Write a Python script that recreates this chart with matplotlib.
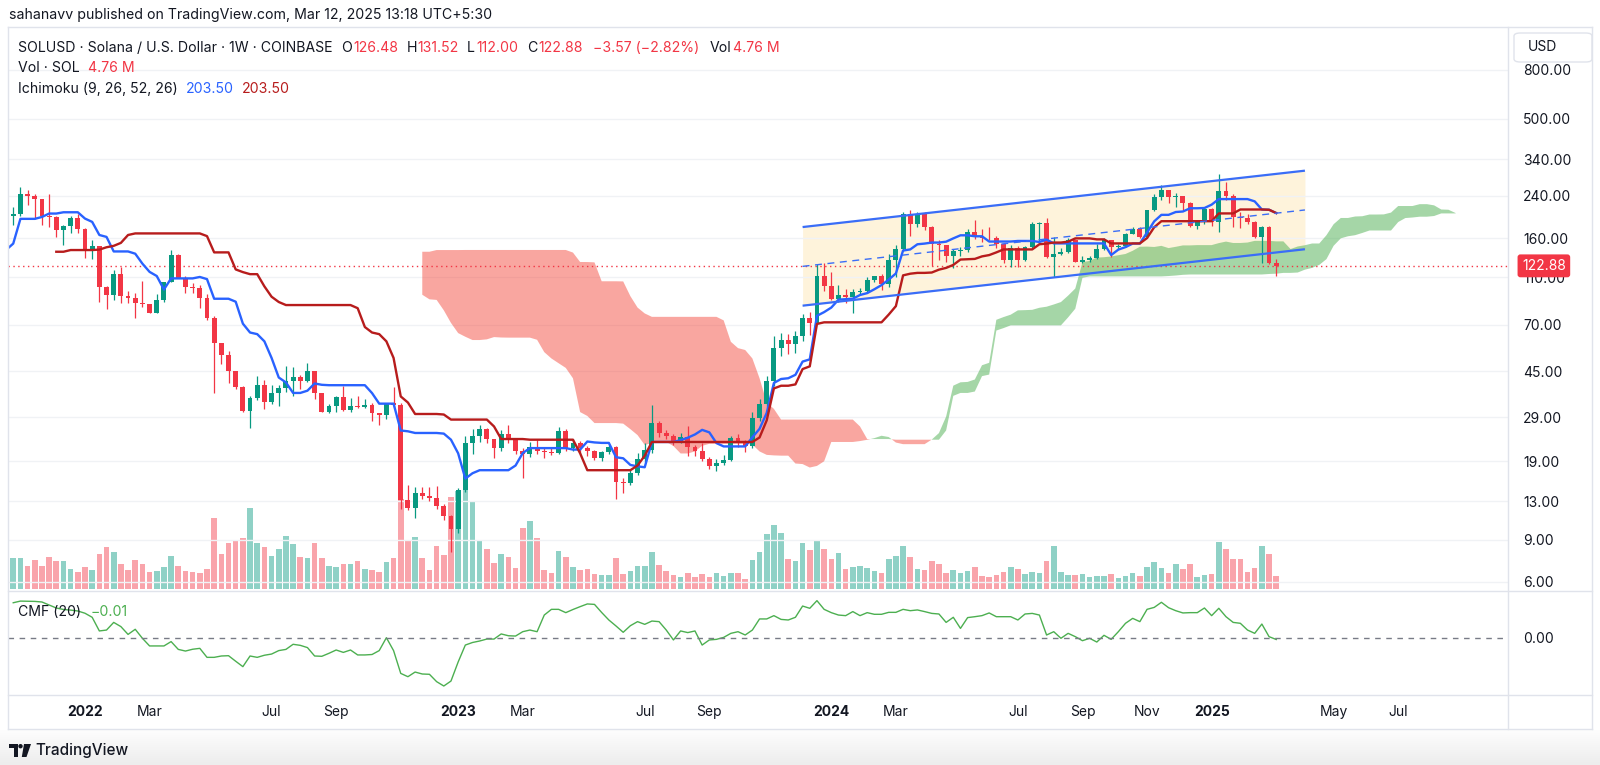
import numpy as np
import pandas as pd
import matplotlib
matplotlib.use("Agg")
import matplotlib.pyplot as plt
import matplotlib.transforms as mtransforms
from matplotlib.patches import FancyBboxPatch, Polygon, Circle
from matplotlib.lines import Line2D
from matplotlib.ticker import FixedLocator, NullLocator
from matplotlib.colors import LinearSegmentedColormap

plt.rcParams['font.family'] = ['Inter', 'DejaVu Sans']

# ---------------- data: SOLUSD weekly, COINBASE ----------------
first_week = "2021-06-14"
first_open = 38.0
highs = [44, 37, 37, 37.5, 33.5, 30.5, 36, 40, 44, 75, 97, 145, 216, 178, 160, 175, 178, 165, 200,
         216, 260, 253, 243, 233, 243, 197, 181, 197, 201,
         176, 157, 148, 101, 118, 121, 97, 95, 106, 85.5,
         93.5, 105, 143, 138, 111, 104, 102, 93.5, 76, 58.6,
         54.7, 45, 39, 35.5, 42.8, 41.3, 39.2, 39.2, 47, 46.8,
         43.2, 48.6, 45, 36.4, 32.8, 35.5, 39, 34.9, 35.4, 34.3,
         33, 30.2, 33.2, 38.7, 33, 15.2, 14.9, 14.8, 14.8, 15,
         12.6, 11.4, 14.7, 24.2, 25.9, 26.9, 26, 23.6, 25.5, 26.9,
         23.5, 21.5, 22.9, 23.3, 21.5, 21.7, 26.3, 25.9, 23.5, 23,
         22, 21.2, 21, 22.3, 22, 16.2, 17.5, 20.5, 22.7, 32.5,
         27.9, 25.5, 24.6, 25, 26.5, 22.3, 22.6, 19.8, 19.5, 20.2,
         24.3, 24.7, 23.3, 30.5, 34.5, 43, 63, 65, 64, 66,
         77.7, 79, 124.5, 126, 116, 102, 98.8, 98.8, 99, 110.5,
         112, 114, 137, 150, 206, 209, 206, 206, 179, 157,
         150, 144, 147, 175, 190, 174, 178, 164, 152, 150,
         149, 148, 187, 187, 194, 162, 146, 161, 159, 135,
         135, 152, 160, 158, 152, 168, 178, 178, 210, 245,
         266, 254, 247, 240, 227, 190, 216, 214, 295, 273,
         243, 205, 202, 189, 180, 180, 131.52]
lows = [33, 21.2, 31, 31, 28, 25.8, 27, 33.5, 37.5, 46, 70, 88, 136, 150, 125, 132, 148, 145, 152,
        181, 198, 219, 193, 181, 178, 162, 150, 168, 168,
        133, 131, 87, 81, 89, 86, 86, 75, 83, 78,
        78, 87, 105, 109, 95, 95, 82, 73.5, 36.5, 48,
        40.3, 38, 30.5, 26, 34, 31.3, 32.8, 32.3, 36.7, 35.3,
        37.8, 40.6, 34.3, 30.3, 30, 30.5, 30.8, 30.4, 31.7, 31.7,
        27.9, 26.9, 28.4, 32, 12, 11.9, 11.1, 13.2, 13.0, 12,
        10.8, 8.0, 9.6, 14.2, 20.4, 22.9, 22.6, 19.6, 21, 22.6,
        20.3, 16.2, 19.8, 20.3, 19.6, 20.1, 20.4, 21, 20.9, 20.6,
        19.9, 19.2, 19, 20.3, 13.2, 14, 15.1, 16.6, 18.8, 20.5,
        24, 23.4, 22.3, 22.7, 19.9, 20, 19.1, 17.6, 17.3, 18.4,
        19, 21.8, 20.8, 21.6, 28, 32, 39, 52, 52.7, 53.6,
        60, 63.4, 70.5, 97, 89, 87.3, 86.4, 78.5, 93, 95,
        105, 98, 100.6, 110.5, 142, 163, 178, 173, 122.6, 130,
        128, 120, 135, 140, 159, 154, 157, 146, 126, 122,
        121.7, 129, 145, 152, 132, 110.5, 136, 139, 127, 126,
        128, 131, 143, 134, 145, 147, 166, 160, 161, 207,
        230, 223, 216, 209, 178, 175, 184, 180, 170, 230,
        178, 176, 184, 160, 126, 125, 112]
closes = [35, 33, 34.5, 33, 28.5, 29, 35, 38, 42, 72, 94, 140, 176, 152, 138, 168, 155, 160, 198,
          201, 245, 240, 232, 198, 196, 173, 179, 195, 174,
          141, 148, 100, 93, 114, 92, 90.5, 86, 85, 78.5,
          88.4, 105, 135.8, 109, 100, 99.5, 90.5, 74.6, 58.6, 52.5,
          44.9, 38.8, 30.6, 34.7, 39.4, 33.6, 36.4, 38.3, 41.1, 42.5,
          40.9, 45, 36.4, 30.5, 32.3, 35.2, 31.1, 32.3, 31.9, 32.5,
          30.2, 29.5, 33, 32.6, 13.1, 12.2, 14.1, 13.7, 13.4, 12.4,
          11.3, 9.96, 14.5, 22.7, 24.2, 25.9, 23.4, 21.5, 24.7, 23.4,
          20.9, 20.4, 21.7, 20.9, 20.7, 20.6, 25.3, 21.5, 22.6, 21.5,
          20.9, 19.6, 20.7, 21.7, 15.6, 15.5, 17.0, 19.4, 21.2, 27.3,
          24.8, 24.2, 22.9, 24.0, 21.7, 20.9, 19.4, 18.2, 18.7, 19.3,
          23.7, 22.8, 21.9, 28.8, 32.8, 41.1, 56.1, 60.8, 58, 62.9,
          74.6, 71, 112, 101, 89.3, 93, 91.3, 95.4, 96.4, 107,
          111.5, 103, 130, 143.7, 202, 184, 202, 178, 152, 150,
          135, 141, 143, 169.5, 162, 161, 160, 152, 130, 146,
          130, 147, 183, 185, 134, 137, 140, 158, 128, 130,
          132, 145, 157, 147, 149, 167, 175, 162, 209, 238,
          253, 238, 239, 223, 179, 188, 212, 187, 251, 239,
          196, 194, 187, 162, 178, 126.48, 122.88]

# volume (M SOL) and CMF(20) from the first visible bar on
visible_from = "2021-10-25"
volume_m = [11.2, 11.2, 8.5, 10.6, 8.5, 11.8, 10.1, 10.4, 7.2, 6.3,
            8.2, 7.0, 12.8, 15.3, 13.7, 9.3, 7.1, 10.6, 9.2, 6.2,
            6.6, 8.2, 12.1, 8.5, 6.6, 6.2, 5.7, 7.4, 25.9, 12.8,
            17.0, 17.9, 18.8, 29.5, 16.7, 15.5, 12.1, 14.5, 19.4, 16.3,
            11.8, 11.3, 17.0, 11.3, 8.5, 8.1, 9.0, 9.0, 10.2, 7.2,
            7.0, 6.2, 9.9, 11.3, 33.0, 17.8, 18.9, 11.3, 7.1, 15.6,
            12.3, 33.8, 36.0, 38.0, 32.1, 18.1, 14.7, 9.4, 12.7, 11.6,
            7.7, 22.4, 24.8, 18.5, 7.0, 5.7, 14.0, 11.8, 8.1, 6.8,
            7.2, 5.5, 5.1, 5.1, 11.2, 5.5, 6.6, 8.3, 8.3, 13.7,
            8.8, 6.6, 5.1, 4.4, 6.0, 4.3, 5.5, 4.4, 6.0, 4.9,
            6.0, 6.0, 3.8, 10.6, 13.7, 20.0, 23.3, 20.6, 10.9, 10.4,
            16.7, 14.2, 17.8, 14.5, 10.9, 13.3, 7.3, 8.2, 8.5, 7.7,
            6.5, 5.7, 11.0, 12.1, 15.7, 11.6, 7.4, 6.8, 10.2, 9.0,
            5.7, 7.1, 5.7, 6.5, 7.9, 4.6, 4.4, 5.1, 6.3, 7.9,
            7.2, 5.5, 6.2, 6.0, 10.2, 15.9, 6.2, 5.2, 5.1, 5.4,
            4.3, 4.8, 4.8, 5.4, 4.0, 4.8, 5.7, 4.8, 8.2, 9.8,
            7.8, 5.7, 9.3, 7.4, 9.0, 4.5, 5.1, 5.5, 17.1, 14.8,
            11.0, 10.9, 6.2, 7.8, 15.9, 12.7, 4.76]
cmf20 = [0.235, 0.246, 0.245, 0.244, 0.24, 0.22, 0.20, 0.19, 0.186, 0.18,
         0.165, 0.138, 0.047, 0.053, 0.104, 0.076, 0.024, 0.058, -0.002, -0.053,
         -0.053, -0.053, -0.024, -0.076, -0.087, -0.075, -0.069, -0.129, -0.129, -0.12,
         -0.118, -0.155, -0.191, -0.12, -0.129, -0.115, -0.107, -0.084, -0.076, -0.042,
         -0.049, -0.064, -0.12, -0.122, -0.102, -0.08, -0.096, -0.08, -0.113, -0.113,
         -0.11, -0.084, 0.002, -0.084, -0.236, -0.258, -0.227, -0.24, -0.242, -0.291,
         -0.32, -0.287, -0.16, -0.047, -0.03, -0.02, -0.007, -0.007, 0.027, 0.015,
         0.013, 0.042, 0.053, 0.042, 0.153, 0.191, 0.191, 0.169, 0.19, 0.209,
         0.227, 0.224, 0.17, 0.12, 0.08, 0.038, 0.082, 0.109, 0.091, 0.113,
         0.109, 0.053, -0.013, 0.047, 0.036, 0.047, -0.047, -0.013, -0.009, 0.004,
         0.031, 0.042, 0.02, 0.053, 0.127, 0.127, 0.149, 0.124, 0.12, 0.138,
         0.213, 0.198, 0.249, 0.191, 0.169, 0.153, 0.149, 0.176, 0.149, 0.169,
         0.158, 0.158, 0.171, 0.171, 0.191, 0.182, 0.187, 0.176, 0.164, 0.16,
         0.104, 0.138, 0.064, 0.136, 0.142, 0.149, 0.167, 0.142, 0.142, 0.142,
         0.12, 0.16, 0.164, 0.153, 0.02, 0.042, -0.002, 0.031, 0.009, -0.018,
         -0.002, -0.027, 0.018, -0.009, 0.042, 0.098, 0.131, 0.109, 0.191, 0.204,
         0.238, 0.202, 0.182, 0.167, 0.169, 0.169, 0.2, 0.149, 0.198, 0.142,
         0.104, 0.098, 0.053, 0.031, 0.093, 0.009, -0.01]

# parallel channel drawn on the chart (bar index since 2022-01-03, price)
channel_x = [100, 170]
channel_top = [178, 305]
channel_bottom = [84, 144]

last_price = 122.88
price_ticks = [6, 9, 13, 19, 29, 45, 70, 110, 160, 240, 340, 500, 800]
tick_months = ["2022-01", "2022-03", "2022-07", "2022-09", "2023-01", "2023-03", "2023-07", "2023-09",
               "2024-01", "2024-03", "2024-07", "2024-09", "2024-11", "2025-01", "2025-05", "2025-07"]
tick_labels = ["2022", "Mar", "Jul", "Sep", "2023", "Mar", "Jul", "Sep",
               "2024", "Mar", "Jul", "Sep", "Nov", "2025", "May", "Jul"]

UP, DN = '#089981', '#F23645'
TXT = '#131722'
FRAME = '#E0E3EB'

# ---------------- calc ----------------
origin = pd.Timestamp("2022-01-03")
weeks = pd.date_range(first_week, periods=len(closes) + 60, freq="W-MON")
wk = ((weeks - origin).days / 7).to_numpy()
x = wk[:len(closes)]
opens = np.r_[first_open, closes[:-1]]
c = np.array(closes, float)
up = c >= opens

hi = pd.Series(highs, dtype=float)
lo = pd.Series(lows, dtype=float)
def donchian(n):
    return ((hi.rolling(n).max() + lo.rolling(n).min()) / 2).to_numpy()
tenkan = donchian(9)
kijun = donchian(26)
lead1 = (tenkan + kijun) / 2
lead2 = donchian(52)
xl = x + 25

start = int((pd.Timestamp(visible_from) - pd.Timestamp(first_week)).days / 7)
xv = x[start:]
upv = up[start:]

tick_x = []
for m in tick_months:
    sel = [w for w, d in zip(wk, weeks) if d.strftime("%Y-%m") == m]
    tick_x.append(sel[0])

# ---------------- figure ----------------
fig = plt.figure(figsize=(16, 7.65), dpi=100)
fig.patch.set_facecolor('white')
renderer = fig.canvas.get_renderer()

def rect(x0, y0, x1, y1):
    return [x0 / 1600, 1 - y1 / 765, (x1 - x0) / 1600, (y1 - y0) / 765]

def ftext(px, py, s, **kw):
    return fig.text(px / 1600, 1 - py / 765, s, va='center', ha='left', **kw)

def text_row(px, py, parts, size):
    # parts: (text, colour, gap before next)
    for s, col, gap in parts:
        t = ftext(px, py, s, fontsize=size, color=col)
        px = t.get_window_extent(renderer).x1 + gap

vax = fig.add_axes(rect(8, 28, 1508, 591))
ax = fig.add_axes(rect(8, 28, 1508, 591), sharex=vax)
cax = fig.add_axes(rect(8, 591, 1508, 695), sharex=vax)
ax.patch.set_visible(False)

# volume
vcol = np.where(upv, UP, DN)
vax.bar(xv, volume_m, width=0.78, color=vcol, alpha=0.45, linewidth=0)
vax.set_ylim(-0.73, 205.3)
vax.axis('off')

# channel
ax.fill_between(channel_x, channel_bottom, channel_top, color='#FEF3DB', lw=0, zorder=1)
ax.plot(channel_x, channel_top, color='#3A6DF7', lw=1.6, zorder=7, solid_capstyle='butt')
ax.plot(channel_x, channel_bottom, color='#3A6DF7', lw=1.6, zorder=7, solid_capstyle='butt')
mid = np.sqrt(np.array(channel_top) * np.array(channel_bottom))
ax.plot(channel_x, mid, color='#3A6DF7', lw=1.0, ls=(0, (5, 4)), zorder=7)

# ichimoku cloud
m = ~np.isnan(lead1) & ~np.isnan(lead2)
a, b, xx = lead1[m], lead2[m], xl[m]
ax.fill_between(xx, a, b, where=a >= b, interpolate=True, color='#4CAF50', alpha=0.5, lw=0, zorder=2)
ax.fill_between(xx, a, b, where=a < b, interpolate=True, color='#F44336', alpha=0.47, lw=0, zorder=2)

# candles
ccol = np.where(up, UP, DN)
blo = np.minimum(opens, c)
bhi = np.maximum(opens, c)
bh = np.maximum(bhi - blo, bhi * 0.006)
ax.vlines(x, lows, highs, colors=ccol, lw=0.9, zorder=4)
ax.bar(x, bh, bottom=blo, width=0.68, color=ccol, linewidth=0, zorder=5)

# conversion / base lines
ax.plot(x, tenkan, color='#2962FF', lw=1.7, zorder=6)
ax.plot(x, kijun, color='#B71C1C', lw=1.7, zorder=6)

ax.axhline(last_price, color=DN, lw=1, ls=(0, (1, 2.5)), zorder=3)

ax.set_yscale('log')
ax.set_ylim(5.504, 1191.6)
ax.set_xlim(-10.73, 198.3)
ax.yaxis.set_major_locator(FixedLocator(price_ticks))
ax.yaxis.set_minor_locator(NullLocator())
ax.set_yticklabels([f"{t:.2f}" for t in price_ticks])
ax.yaxis.tick_right()
ax.tick_params(axis='y', length=0, pad=10.8, labelsize=10, labelcolor=TXT)
ax.tick_params(axis='x', bottom=False, labelbottom=False)
ax.grid(axis='y', color='#F0F2F5', lw=1, zorder=0)
for s in ax.spines.values():
    s.set_visible(False)

blend = mtransforms.blended_transform_factory(ax.transAxes, ax.transData)
ax.text(1 + 14 / 1500, last_price, f"{last_price:.2f}", transform=blend, color='white',
        fontsize=10, va='center', ha='left', clip_on=False, zorder=20,
        bbox=dict(boxstyle='round,pad=0.32,rounding_size=0.2', fc=DN, ec='none'))

# CMF pane
cax.plot(xv, cmf20, color='#4CAF50', lw=1.0)
cax.axhline(0, color='#787B86', lw=1, ls=(0, (4, 4)))
cax.set_ylim(-0.38, 0.3133)
cax.set_yticks([0])
cax.set_yticklabels(["0.00"])
cax.yaxis.tick_right()
cax.tick_params(axis='y', length=0, pad=10.8, labelsize=10, labelcolor=TXT)
cax.set_xticks(tick_x)
cax.set_xticklabels(tick_labels)
cax.tick_params(axis='x', length=0, pad=7.5, labelsize=10, labelcolor=TXT)
for lab in cax.get_xticklabels():
    if lab.get_text().isdigit():
        lab.set_fontweight('bold')
for s in cax.spines.values():
    s.set_visible(False)
cax.patch.set_visible(False)

# frame and separators
def fline(x0, y0, x1, y1, col=FRAME):
    fig.add_artist(Line2D([x0 / 1600, x1 / 1600], [1 - y0 / 765, 1 - y1 / 765], color=col, lw=1))
fline(8, 27, 1592, 27)
fline(8, 729, 1592, 729)
fline(8, 27, 8, 729)
fline(1592, 27, 1592, 729)
fline(1508, 27, 1508, 729)
fline(8, 591, 1592, 591)
fline(8, 695, 1592, 695)

# USD box
fig.add_artist(FancyBboxPatch((1514 / 1600, 1 - 62 / 765), 78 / 1600, 29 / 765,
                              boxstyle='round,pad=0,rounding_size=0.004', transform=fig.transFigure,
                              fc='white', ec=FRAME, lw=1))
ftext(1528, 47, "USD", fontsize=10, color=TXT)

# texts
ftext(9, 15, "sahanavv published on TradingView.com, Mar 12, 2025 13:18 UTC+5:30", fontsize=10.2, color=TXT)
LS = 10.15
text_row(18, 48, [("SOLUSD · Solana / U.S. Dollar · 1W · COINBASE", TXT, 9), ("O", TXT, 1), ("126.48", DN, 8),
                  ("H", TXT, 1), ("131.52", DN, 8), ("L", TXT, 1), ("112.00", DN, 9),
                  ("C", TXT, 1), ("122.88", DN, 10), ("−3.57 (−2.82%)", DN, 11),
                  ("Vol", TXT, 1), ("4.76 M", DN, 0)], LS)
text_row(18, 68, [("Vol · SOL", TXT, 8), ("4.76 M", DN, 0)], LS)
text_row(18, 89, [("Ichimoku (9, 26, 52, 26)", TXT, 8), ("203.50", '#2962FF', 8), ("203.50", '#B71C1C', 0)], LS)
text_row(18, 612, [("CMF (20)", TXT, 9), ("−0.01", '#4CAF50', 0)], LS)

# footer
gax = fig.add_axes(rect(0, 730, 1600, 765))
grad = np.linspace(0, 1, 50).reshape(-1, 1)
gax.imshow(grad, aspect='auto', cmap=LinearSegmentedColormap.from_list('g', ['#FDFDFD', '#EDEDED']),
           extent=[0, 1, 0, 1], origin='upper')
gax.axis('off')

idt = mtransforms.IdentityTransform()
def P(px, py):
    return (px, 765 - py)
fig.add_artist(Polygon([P(9, 744), P(17.5, 744), P(17.5, 757), P(13.5, 757), P(13.5, 748), P(9, 748)],
                       closed=True, fc=TXT, ec='none', transform=idt))
fig.add_artist(Circle(P(20.5, 746.2), 2.2, fc=TXT, ec='none', transform=idt))
fig.add_artist(Polygon([P(24, 744), P(31, 744), P(26.5, 757), P(21.8, 757)],
                       closed=True, fc=TXT, ec='none', transform=idt))
ftext(35, 750.5, "TradingView", fontsize=11, color=TXT, fontweight='medium')

fig.savefig("out.png", dpi=100)
